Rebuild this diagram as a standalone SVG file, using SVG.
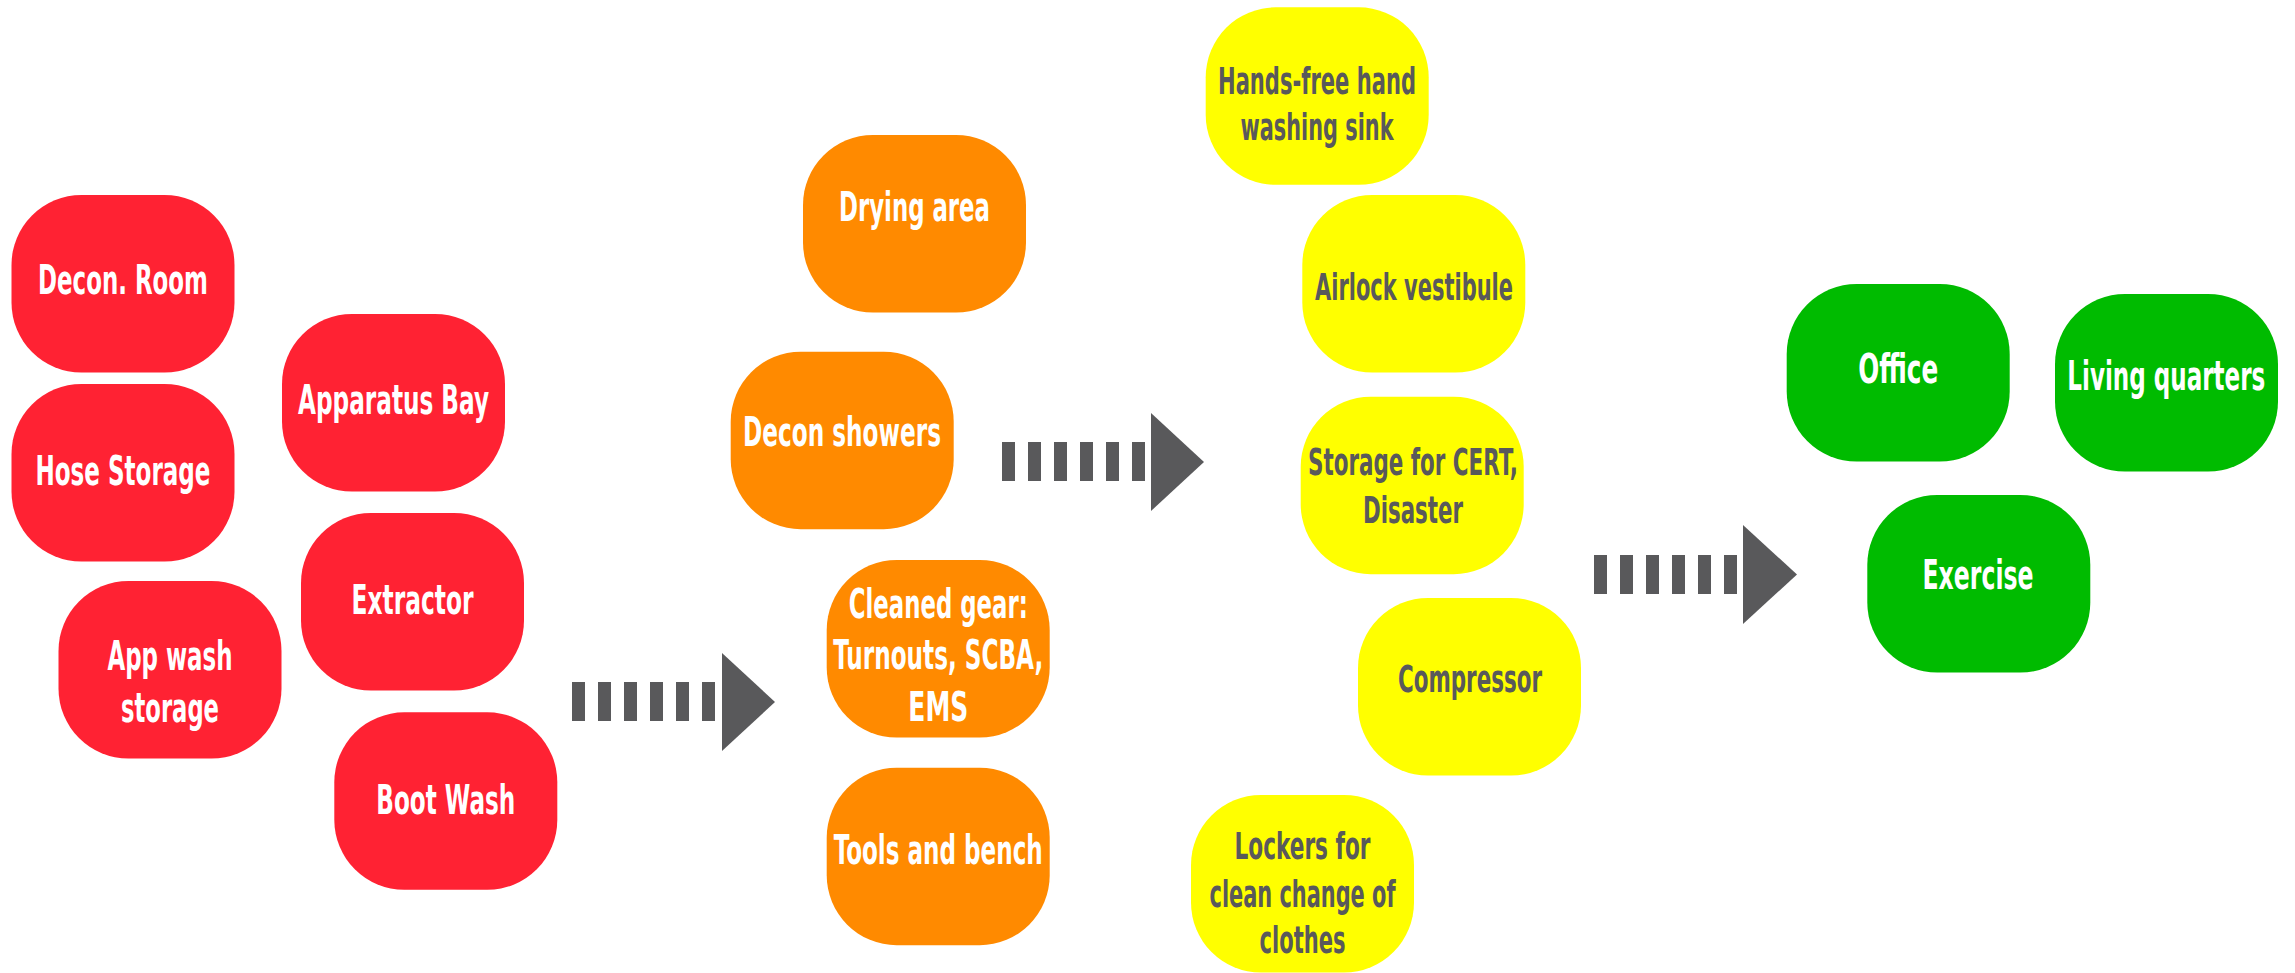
<svg xmlns="http://www.w3.org/2000/svg" width="2295" height="973" viewBox="0 0 2295 973">
<style>
.box{rx:70px;ry:70px}
.red{fill:#FF2233}
.orange{fill:#FF8A00}
.yellow{fill:#FFFF00}
.green{fill:#00BB00}
text{font-family:"Liberation Sans Narrow","DejaVu Sans Condensed","Liberation Sans",Arial,sans-serif;font-weight:bold;text-anchor:middle;font-stretch:condensed}
.w{fill:#FFFFFF;font-size:41px}
.d{fill:#59595B;font-size:38px}
.dash{stroke:#59595B;stroke-width:39;stroke-dasharray:13 13;fill:none}
.head{fill:#59595B}
</style>
<rect width="2295" height="973" fill="#FFFFFF"/>
<g id="connectors">
  <line class="dash" x1="572" y1="701.5" x2="715" y2="701.5"/>
  <polygon class="head" points="722,653 775,702 722,751"/>
  <line class="dash" x1="1002" y1="461.5" x2="1145" y2="461.5"/>
  <polygon class="head" points="1151,413 1204,462 1151,511"/>
  <line class="dash" x1="1594" y1="574.5" x2="1737" y2="574.5"/>
  <polygon class="head" points="1743,525 1797,574.5 1743,624"/>
</g>
<g id="decon-room"><rect class="box red" x="11.5" y="195" width="223" height="177.5"/><text class="w" x="123" y="293.7" textLength="170" lengthAdjust="spacingAndGlyphs">Decon. Room</text></g>
<g id="hose-storage"><rect class="box red" x="11.5" y="384" width="223" height="177.5"/><text class="w" x="123" y="485" textLength="175" lengthAdjust="spacingAndGlyphs">Hose Storage</text></g>
<g id="apparatus-bay"><rect class="box red" x="282" y="314" width="223" height="177.5"/><text class="w" x="393.5" y="414" textLength="191" lengthAdjust="spacingAndGlyphs">Apparatus Bay</text></g>
<g id="extractor"><rect class="box red" x="301" y="513" width="223" height="177.5"/><text class="w" x="412.5" y="613.6" textLength="122" lengthAdjust="spacingAndGlyphs">Extractor</text></g>
<g id="app-wash-storage"><rect class="box red" x="58.5" y="581" width="223" height="177.5"/><text class="w" x="170" y="670" textLength="125" lengthAdjust="spacingAndGlyphs">App wash</text><text class="w" x="170" y="722" textLength="98" lengthAdjust="spacingAndGlyphs">storage</text></g>
<g id="boot-wash"><rect class="box red" x="334.3" y="712.3" width="223" height="177.5"/><text class="w" x="445.8" y="814" textLength="139" lengthAdjust="spacingAndGlyphs">Boot Wash</text></g>

<g id="drying-area"><rect class="box orange" x="803" y="135" width="223" height="177.5"/><text class="w" x="914.5" y="220.7" textLength="151" lengthAdjust="spacingAndGlyphs">Drying area</text></g>
<g id="decon-showers"><rect class="box orange" x="730.7" y="351.7" width="223" height="177.5"/><text class="w" x="842" y="446" textLength="198" lengthAdjust="spacingAndGlyphs">Decon showers</text></g>
<g id="cleaned-gear"><rect class="box orange" x="826.7" y="560" width="223" height="177.5"/><text class="w" x="938.3" y="618.3" textLength="179" lengthAdjust="spacingAndGlyphs">Cleaned gear:</text><text class="w" x="938.3" y="669.3" textLength="210" lengthAdjust="spacingAndGlyphs">Turnouts, SCBA,</text><text class="w" x="938.3" y="721" textLength="60" lengthAdjust="spacingAndGlyphs">EMS</text></g>
<g id="tools-and-bench"><rect class="box orange" x="826.7" y="767.7" width="223" height="177.5"/><text class="w" x="938.3" y="864" textLength="209" lengthAdjust="spacingAndGlyphs">Tools and bench</text></g>

<g id="hands-free-sink"><rect class="box yellow" x="1205.7" y="7.3" width="223" height="177.5"/><text class="d" x="1317" y="94" textLength="198" lengthAdjust="spacingAndGlyphs">Hands-free hand</text><text class="d" x="1317" y="140" textLength="153" lengthAdjust="spacingAndGlyphs">washing sink</text></g>
<g id="airlock-vestibule"><rect class="box yellow" x="1302.3" y="195" width="223" height="177.5"/><text class="d" x="1414" y="300" textLength="198" lengthAdjust="spacingAndGlyphs">Airlock vestibule</text></g>
<g id="storage-cert"><rect class="box yellow" x="1300.7" y="396.7" width="223" height="177.5"/><text class="d" x="1413" y="475" textLength="210" lengthAdjust="spacingAndGlyphs">Storage for CERT,</text><text class="d" x="1413" y="522.7" textLength="100" lengthAdjust="spacingAndGlyphs">Disaster</text></g>
<g id="compressor"><rect class="box yellow" x="1358" y="598" width="223" height="177.5"/><text class="d" x="1470" y="692" textLength="144" lengthAdjust="spacingAndGlyphs">Compressor</text></g>
<g id="lockers"><rect class="box yellow" x="1191" y="795" width="223" height="177.5"/><text class="d" x="1302.5" y="859" textLength="136" lengthAdjust="spacingAndGlyphs">Lockers for</text><text class="d" x="1302.5" y="906.7" textLength="186" lengthAdjust="spacingAndGlyphs">clean change of</text><text class="d" x="1302.5" y="952.7" textLength="86" lengthAdjust="spacingAndGlyphs">clothes</text></g>

<g id="office"><rect class="box green" x="1786.7" y="284" width="223" height="177.5"/><text class="w" x="1898.3" y="383.3" textLength="80" lengthAdjust="spacingAndGlyphs">Office</text></g>
<g id="living-quarters"><rect class="box green" x="2055" y="294" width="223" height="177.5"/><text class="w" x="2166.3" y="390" textLength="198" lengthAdjust="spacingAndGlyphs">Living quarters</text></g>
<g id="exercise"><rect class="box green" x="1867.3" y="495" width="223" height="177.5"/><text class="w" x="1978" y="589.3" textLength="111" lengthAdjust="spacingAndGlyphs">Exercise</text></g>
</svg>
